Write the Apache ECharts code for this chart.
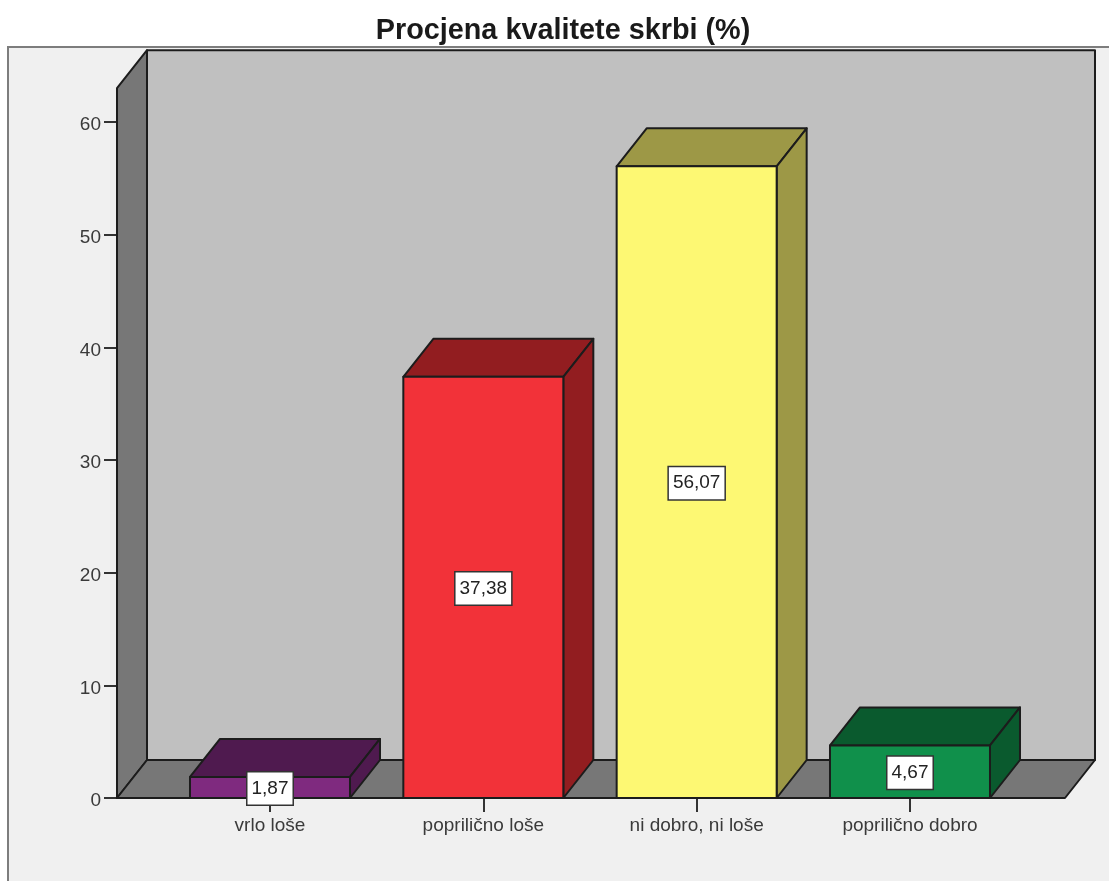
<!DOCTYPE html>
<html>
<head>
<meta charset="utf-8">
<style>html,body{margin:0;padding:0;background:#fff}#c{width:1109px;height:881px}</style>
<script src="https://cdn.jsdelivr.net/npm/echarts@6/dist/echarts.min.js"></script>
</head>
<body>
<div id="c"></div>
<script>
const titleText = 'Procjena kvalitete skrbi (%)';
const categories = ['vrlo loše', 'poprilično loše', 'ni dobro, ni loše', 'poprilično dobro'];
const values = [1.87, 37.38, 56.07, 4.67];
const valueLabels = ['1,87', '37,38', '56,07', '4,67'];
const frontColors = ['#7f2a7f', '#f23239', '#fdf873', '#10904b'];
const sideColors = ['#4f1a4f', '#921d20', '#9d9846', '#0a5a2e'];

const DX = 30, DY = -38, EDGE = '#1c1c1c';
const chart = echarts.init(document.getElementById('c'), null, {renderer: 'canvas'});

function poly(pts, fill) {
  return {type: 'polygon', shape: {points: pts},
    style: {fill: fill, stroke: EDGE, lineWidth: 2, lineJoin: 'round'}};
}

function renderWalls(params, api) {
  const y0 = api.coord([0, 0])[1];
  const yTop = api.coord([0, api.value(0)])[1];
  const x0 = api.coord([0, 0])[0] - 153;
  const x1 = api.coord([3, 0])[0] + 155;
  return {type: 'group', children: [
    poly([[x0 + DX, yTop + DY], [x1 + DX, yTop + DY], [x1 + DX, y0 + DY], [x0 + DX, y0 + DY]], '#c0c0c0'),
    poly([[x0, yTop], [x0 + DX, yTop + DY], [x0 + DX, y0 + DY], [x0, y0]], '#777777'),
    poly([[x0, y0], [x0 + DX, y0 + DY], [x1 + DX, y0 + DY], [x1, y0]], '#777777')
  ]};
}

function renderBar(params, api) {
  const i = api.value(0), v = api.value(1);
  const base = api.coord([i, 0]), top = api.coord([i, v]);
  const w = api.size([1, 0])[0] * 0.75;
  const l = base[0] - w / 2, r = base[0] + w / 2;
  return {type: 'group', children: [
    poly([[l, top[1]], [l + DX, top[1] + DY], [r + DX, top[1] + DY], [r, top[1]]], sideColors[i]),
    poly([[r, top[1]], [r + DX, top[1] + DY], [r + DX, base[1] + DY], [r, base[1]]], sideColors[i]),
    poly([[l, top[1]], [r, top[1]], [r, base[1]], [l, base[1]]], frontColors[i]),
    {type: 'text', z2: 10, style: {
      text: valueLabels[i], x: base[0], y: (top[1] + base[1]) / 2 + 1,
      align: 'center', verticalAlign: 'middle',
      fill: '#222', font: '19px "Liberation Sans", Arial, sans-serif',
      backgroundColor: '#fff', borderColor: '#333', borderWidth: 1.5,
      padding: [7, 4, 6, 4]
    }}
  ]};
}

chart.setOption({
  animation: false,
  backgroundColor: '#ffffff',
  title: {
    text: titleText, left: 558, top: 12, textAlign: 'center',
    textStyle: {fontFamily: '"Liberation Sans", Arial, sans-serif', fontWeight: 'bold', fontSize: 28.8, color: '#1a1a1a'}
  },
  graphic: [{
    type: 'rect', z: -1, silent: true,
    shape: {x: 8, y: 47, width: 1110, height: 850},
    style: {fill: '#f0f0f0', stroke: '#7d7d7d', lineWidth: 2}
  }],
  grid: {left: 163.33, width: 853.33, top: 122, height: 676},
  xAxis: {
    type: 'category', data: categories,
    axisLine: {show: false},
    axisTick: {show: true, alignWithLabel: true, length: 14, lineStyle: {color: '#333', width: 2}},
    axisLabel: {margin: 18, fontSize: 19, color: '#3a3a3a', fontFamily: '"Liberation Sans", Arial, sans-serif'}
  },
  yAxis: {
    type: 'value', min: 0, max: 60, interval: 10, offset: 46.33,
    splitLine: {show: false},
    axisLine: {show: false},
    axisTick: {show: true, length: 13, lineStyle: {color: '#333', width: 2}},
    axisLabel: {margin: 16, fontSize: 19, verticalAlign: 'top', lineHeight: 6, color: '#3a3a3a', fontFamily: '"Liberation Sans", Arial, sans-serif'}
  },
  series: [
    {type: 'custom', z: 1, silent: true, clip: false, renderItem: renderWalls, data: [[63]], encode: {y: 0}},
    {type: 'custom', z: 3, clip: false, renderItem: renderBar,
      data: values.map((v, i) => [i, v]), encode: {x: 0, y: 1}}
  ]
});
</script>
</body>
</html>
